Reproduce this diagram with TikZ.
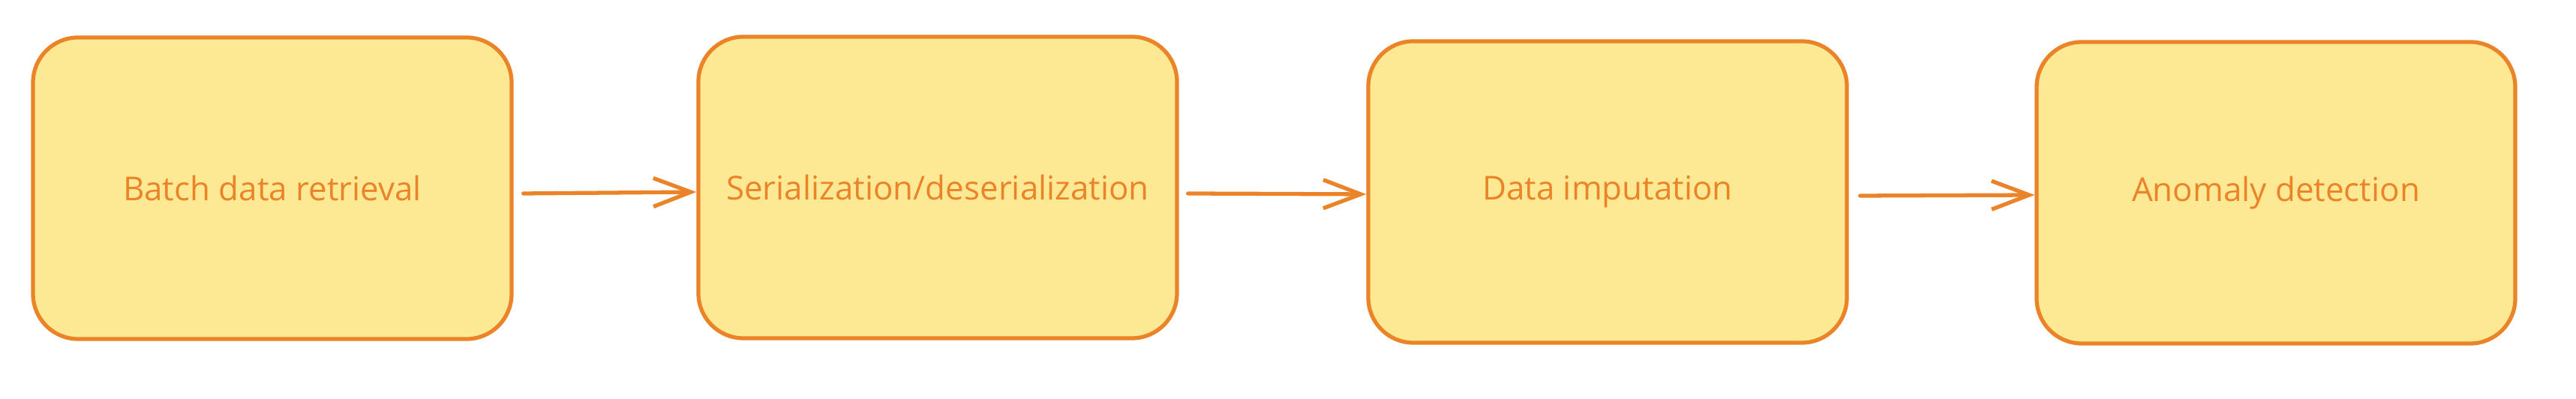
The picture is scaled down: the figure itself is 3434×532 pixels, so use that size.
\documentclass[tikz,border=0pt]{standalone}
\usepackage{fontspec}
\setmainfont{Open Sans}
\usetikzlibrary{arrows.meta}
\definecolor{strokeorange}{HTML}{EB8429}
\definecolor{fillyellow}{HTML}{FDE994}
\tikzset{
  stage/.style={rectangle, rounded corners=6mm, draw=strokeorange, fill=fillyellow,
    line width=1.5pt, minimum width=63.8mm, minimum height=40.2mm, inner sep=0pt,
    text=strokeorange, font=\fontsize{12.5}{15}\selectfont},
  flow/.style={-{Straight Barb[length=5mm, width=3.8mm, line width=1.5pt]},
    draw=strokeorange, line width=1.5pt, line cap=round}
}
\begin{document}
\begin{tikzpicture}[x=0.1mm, y=-0.1mm]
\useasboundingbox (0,0) rectangle (3434,532);
\node (batch) at (363,251) [stage] {Batch data retrieval};
\node (serial) at (1250,250) [stage] {Serialization/deserialization};
\node (imput) at (2143,256) [stage] {Data imputation};
\node (anomaly) at (3034,257) [stage] {Anomaly detection};
\draw[flow] ([shift={(13,7)}]batch.east) -- ([yshift=-0.6mm]serial.west);
\draw[flow] ([shift={(12,8)}]serial.east) -- ([yshift=-0.3mm]imput.west);
\draw[flow] ([shift={(15,5)}]imput.east) -- ([yshift=-0.3mm]anomaly.west);
\end{tikzpicture}
\end{document}
